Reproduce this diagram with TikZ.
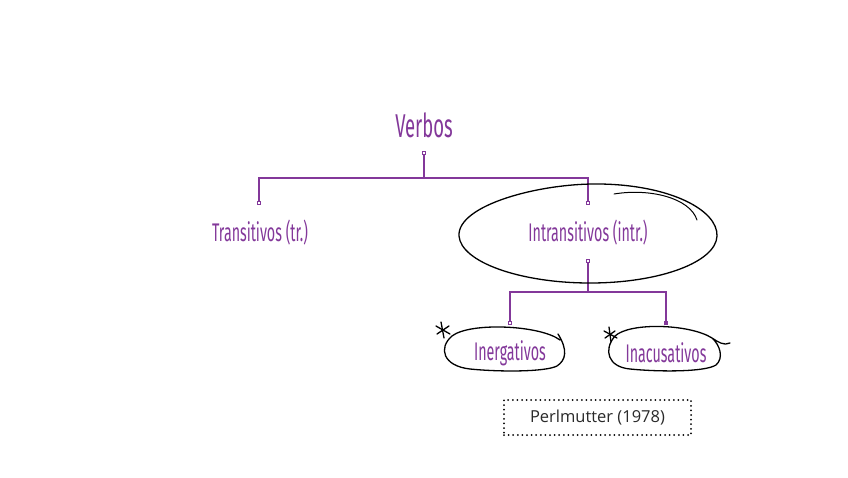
\documentclass[tikz,border=0pt]{standalone}
\usepackage{fontspec}
\usepackage{tikz}
\usetikzlibrary{positioning,calc}
\newfontfamily\condfont[FakeStretch=0.56]{Fira Sans}
\newfontfamily\reffont{Open Sans}
\definecolor{verbpurple}{HTML}{83389A}
\definecolor{reftext}{HTML}{2A2A2A}

\begin{document}
\begin{tikzpicture}[x=1pt, y=-1pt,
    lbl/.style={font=\condfont\fontsize{25.5}{27}\selectfont, text=verbpurple, inner sep=1pt},
    treeline/.style={verbpurple, line width=1.2pt},
    knob/.style={rectangle, draw=verbpurple, fill=white, line width=0.8pt, minimum size=3.5pt, inner sep=0pt},
    knobfull/.style={knob, fill=verbpurple},
    sketch/.style={black, line width=1.3pt, line cap=round, line join=round},
    refbox/.style={draw=black, line width=2pt, line cap=round, dash pattern=on 0pt off 4.6pt, minimum width=187pt, minimum height=35pt, font=\reffont\fontsize{16.5}{18}\selectfont, text=reftext}
  ]
    \useasboundingbox[fill=white] (0,0) rectangle (848,477);

    % Labels
    \node[lbl, font=\condfont\fontsize{33}{35}\selectfont] (verbos) at (424,125) {Verbos};
    \node[lbl] (tr) at (260,233) {Transitivos (tr.)};
    \node[lbl] (intr) at (588,233) {Intransitivos (intr.)};
    \node[lbl] (inerg) at (510,353) {Inergativos};
    \node[lbl] (inacus) at (666,353) {Inacusativos};
    \node[refbox] (ref) at (597.5,417.5) {Perlmutter (1978)};

    % Tree: Verbos
    \coordinate (vbar) at (424,178);
    \node[knob] (vk) at (424,153) {};
    \node[knob] (trk) at (259,203) {};
    \node[knob] (intrk) at (588,203) {};
    \draw[treeline, line width=2.2pt] (vk) -- (vbar);
    \draw[treeline] (trk) -- (trk |- vbar) -- (intrk |- vbar) -- (intrk);

    % Tree: Intransitivos
    \coordinate (ibar) at (588,292);
    \node[knob] (ik) at (588,261) {};
    \node[knob] (inergk) at (510,323) {};
    \node[knobfull] (inacusk) at (666,323) {};
    \draw[treeline] (ik) -- (ibar);
    \draw[treeline] (inergk) -- (inergk |- ibar) -- (inacusk |- ibar) -- (inacusk);

    % Sketched ellipse around Intransitivos
    \draw[sketch] (459,236) .. controls (457,205) and (540,183) .. (600,184)
      .. controls (670,185) and (718,210) .. (717,236)
      .. controls (716,262) and (660,283) .. (590,283)
      .. controls (520,283) and (461,262) .. (459,236);
    \draw[sketch, line width=1pt] (614,194) .. controls (650,188) and (690,198) .. (697,220);

    % Sketched loop around Inergativos
    \draw[sketch] (560,340) .. controls (540,325) and (470,322) .. (452,336)
      .. controls (438,348) and (443,366) .. (470,369)
      .. controls (500,372) and (545,372) .. (557,366)
      .. controls (566,360) and (568,350) .. (558,334);
    % asterisk
    \draw[sketch] (436,326) -- (450,334);
    \draw[sketch] (437,334) -- (449,326);
    \draw[sketch] (441,322) -- (444,338);

    % Sketched loop around Inacusativos
    \draw[sketch] (730,343) .. controls (724,346) and (718,342) .. (712,338)
      .. controls (690,324) and (630,322) .. (615,336)
      .. controls (603,350) and (608,367) .. (630,369)
      .. controls (660,372) and (705,372) .. (716,365)
      .. controls (724,358) and (720,345) .. (712,338);
    % asterisk
    \draw[sketch] (604,331) -- (617,338);
    \draw[sketch] (605,338) -- (615,331);
    \draw[sketch] (609,327) -- (611,342);
  \end{tikzpicture}
\end{document}
